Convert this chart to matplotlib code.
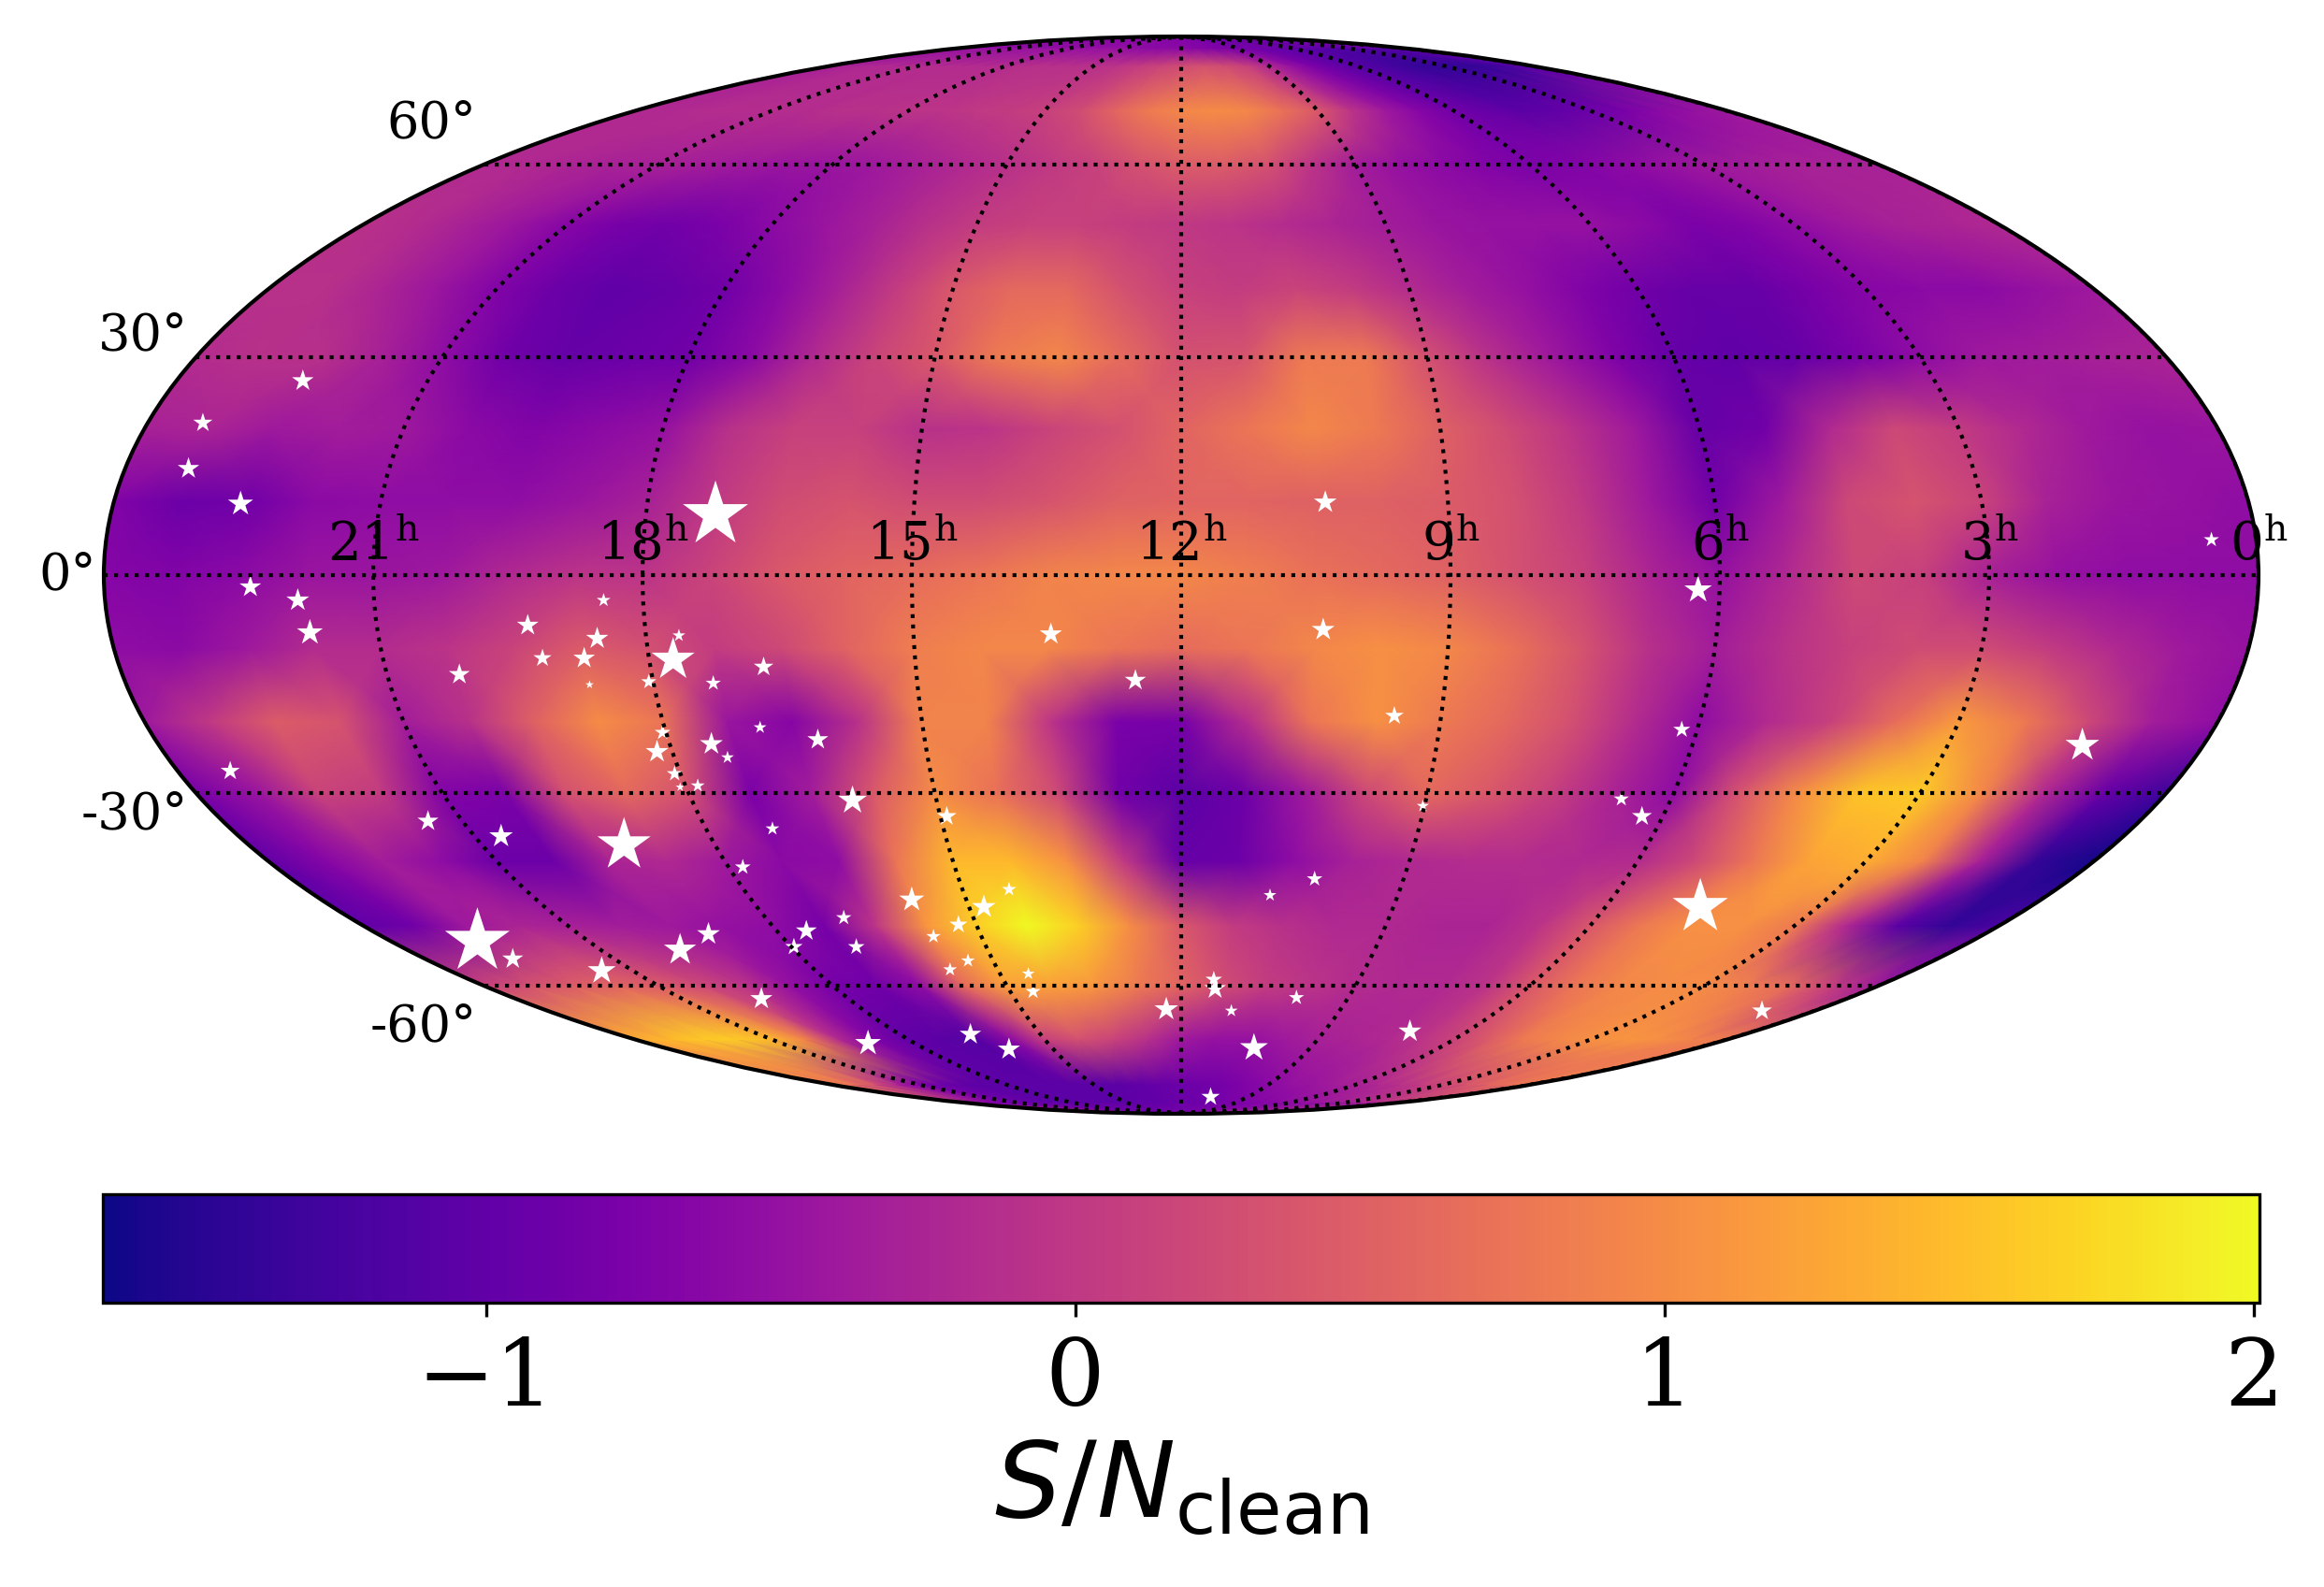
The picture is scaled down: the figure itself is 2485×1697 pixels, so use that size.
import numpy as np
import matplotlib
matplotlib.use("Agg")
import matplotlib.pyplot as plt

plt.rcParams['font.family'] = 'serif'
plt.rcParams['mathtext.fontset'] = 'dejavuserif'

# S/N map, rows are declination, columns go from RA 24h (left) to 0h (right)
dec_rows = [-90, -85, -80, -70, -60, -50, -40, -30, -20, -10, 0, 10, 20, 30, 40, 50, 60, 70, 80, 85, 90]
lon_cols = np.arange(-180, 180.1, 11.25)

sn_values = [
    [-.8] * 33,
    [-.3, -.5, -.7, -.8, -.9, -.95, -1.0, -1.05, -1.05, -1.05, -1.05, -1.05, -1.05, -1.0, -1.0, -.95, -.9, -.9, -.85, -.8, -.75, -.7, -.65, -.6, -.55, -.5, -.45, -.4, -.35, -.3, -.2, -.15, -.1],
    [.85, .7, .3, -.25, -.7, -.9, -1.0, -1.05, -1.05, -1.05, -1.05, -1.05, -1.05, -1.05, -1.0, -.95, -.9, -.85, -.8, -.7, -.6, -.5, -.45, -.35, -.3, -.2, -.1, .05, .2, .35, .55, .7, .85],
    [1.3, 1.45, 1.6, 1.6, 1.45, .9, -.2, -.7, -1.0, -1.05, -1.1, -.6, .1, .3, .15, -.1, -.4, -.5, -.5, -.4, -.3, -.25, -.2, -.05, .15, .45, .8, .95, 1.05, 1.1, 1.05, .9, .8],
    [.1, .3, .45, .55, .45, .2, -.05, -.5, -.8, -.85, -.55, .6, 1.2, 1.2, 1.1, .8, .55, .25, .05, -.05, -.15, -.2, -.2, -.05, .4, .75, .95, 1.0, 1.0, .85, .6, .05, -.4],
    [-1.0, -.85, -.4, -.25, -.3, -.35, -.4, -.5, -.55, -.8, -.05, 1.1, 1.65, 2.0, 1.65, 1.0, .4, .05, -.1, -.2, -.2, -.25, -.25, -.05, .4, .8, 1.05, 1.05, .8, -.2, -1.05, -1.4, -1.2],
    [-1.0, -.65, -.35, -.55, -.9, -.9, -.25, -.2, -.4, -.6, -.55, .75, 1.45, 1.45, 1.05, .0, -.95, -.9, -.55, -.3, -.2, -.15, -.15, -.2, -.15, .2, .75, 1.25, 1.35, .9, -.3, -1.4, -1.6],
    [-.8, -.45, .15, .05, -.7, -.75, .3, .6, .3, -.75, -.35, .4, 1.0, .7, .2, -.85, -1.05, -.9, -.4, .2, .6, .4, .1, -.25, -.55, .3, 1.0, 1.55, 1.6, .95, -.2, -.95, -1.3],
    [-.4, .0, .45, .35, -.35, -.1, .5, 1.0, .75, -.45, -.65, -.1, .9, .9, -.05, -.75, -.8, -.15, .75, 1.05, .8, .6, .3, -.15, -.55, -.2, .1, .65, 1.15, .8, .2, -.35, -.55],
    [-.55, -.6, -.4, -.15, -.15, -.05, .15, .45, .3, .05, .2, .55, .85, .95, .95, .75, .65, .75, .95, 1.05, .95, .7, .35, -.1, -.35, -.1, .1, .25, .25, .05, -.2, -.4, -.5],
    [-.65, -.7, -.6, -.45, -.45, -.4, -.2, -.05, -.05, .15, .4, .55, .65, .75, .9, .95, .95, .85, .7, .6, .5, .3, .1, -.25, -.5, -.2, .2, .1, -.3, -.5, -.55, -.55, -.55],
    [-.7, -.9, -.85, -.6, -.55, -.55, -.55, -.45, -.3, .0, .25, .35, .25, .25, .35, .5, .55, .55, .5, .5, .45, .3, .0, -.4, -.85, -.4, .2, .35, .15, -.3, -.45, -.5, -.55],
    [-.3, -.25, -.4, -.35, -.4, -.6, -.7, -.6, -.5, -.1, .1, .1, -.1, -.05, .15, .3, .55, .75, .95, .8, .5, .25, -.05, -.4, -.95, -.85, -.2, .2, .05, -.2, -.4, -.5, -.45],
    [-.15, -.1, -.1, -.3, -.55, -.85, -.95, -.9, -.85, -.6, -.2, .15, .4, .8, .95, .65, .3, .35, .8, .8, .3, -.1, -.4, -.7, -.95, -1.0, -.95, -.75, -.55, -.4, -.35, -.3, -.25],
    [-.1, -.1, -.25, -.45, -.7, -.9, -1.0, -.95, -.85, -.6, -.3, .05, .4, .6, .6, .3, .1, .05, .15, .05, -.15, -.35, -.5, -.7, -.85, -.95, -.95, -.8, -.65, -.6, -.6, -.5, -.4],
    [-.1, -.15, -.3, -.45, -.65, -.8, -.85, -.75, -.6, -.45, -.3, -.1, .05, .1, .1, .05, 0, -.05, -.15, -.25, -.35, -.45, -.5, -.5, -.5, -.6, -.75, -.7, -.55, -.4, -.3, -.25, -.2],
    [-.2, -.2, -.25, -.3, -.3, -.35, -.4, -.45, -.45, -.4, -.3, -.2, -.1, 0, .1, .3, .45, .45, .3, -.05, -.35, -.5, -.6, -.7, -.75, -.7, -.6, -.5, -.4, -.35, -.3, -.3, -.3],
    [-.2, -.2, -.15, -.15, -.15, -.15, -.1, -.1, -.05, -.05, 0, .05, .1, .25, .55, .8, .95, 1.0, .95, .7, .4, -.05, -.4, -.65, -.85, -.95, -1.05, -1.0, -.9, -.75, -.6, -.5, -.4],
    [-.3, -.25, -.2, -.2, -.15, -.15, -.15, -.15, -.15, -.1, -.1, -.1, -.1, -.05, .05, .15, .25, .3, .25, .1, -.2, -.5, -.75, -.95, -1.1, -1.2, -1.3, -1.4, -1.4, -1.4, -1.35, -1.2, -1.0],
    [-.5, -.5, -.5, -.5, -.5, -.5, -.5, -.5, -.5, -.5, -.5, -.5, -.5, -.55, -.6, -.6, -.6, -.65, -.7, -.75, -.8, -.85, -.9, -.95, -1.0, -1.05, -1.1, -1.1, -1.1, -1.1, -1.1, -1.05, -1.0],
    [-.7] * 33,
]

star_ra = [22.49, 23.36, 23.28, 22.57, 22.37, 21.85, 21.76, 23.37, 21.43, 20.66, 20.18, 19.31, 19.20, 18.73, 18.55, 18.44,
           18.73, 17.73, 17.63, 18.05, 17.32, 16.72, 16.89, 16.25, 17.51, 17.37, 18.04, 18.18, 18.07, 18.07, 17.85, 16.03,
           17.16, 17.81, 14.92, 19.17, 22.69, 22.61, 21.51, 19.77, 19.06, 19.57, 17.56, 17.96, 16.87, 17.00, 15.76, 15.72,
           15.26, 14.79, 14.36, 15.78, 15.40, 14.53, 14.60, 19.05, 16.49, 16.04, 12.28, 11.45, 11.41, 11.05, 9.93, 10.31,
           10.68, 7.21, 10.77, 10.20, 17.22, 13.46, 12.52, 10.38, 10.41, 9.54, 9.02, 6.24, 6.18, 6.61, 6.26, 4.66, 1.00,
           1.42, 0.50]
star_dec = [26.7, 20.8, 14.5, 9.7, -1.6, -3.4, -7.8, -26.9, -34.1, -36.3, -13.5, -6.8, -11.3, -11.3, -8.6, -3.4,
            -14.9, -11.5, -8.2, -14.5, -14.7, -12.5, -20.8, -22.5, -23.1, -25.0, -21.5, -24.2, -27.3, -29.2, -29.0, -31.1,
            -35.2, -40.9, -33.4, -37.6, -52.5, -55.4, -57.4, -53.9, -51.3, -62.3, -50.8, -53.4, -48.7, -53.4, -45.9, -51.7,
            -49.8, -47.0, -44.3, -57.2, -55.7, -57.9, -61.0, -70.8, -69.0, -72.0, -64.2, -58.9, -60.5, -64.5, -62.1, -71.7,
            -83.4, -68.4, -45.2, -42.7, 8.2, -8.0, -14.3, 9.9, -7.4, -19.2, -31.9, -2.0, -21.1, -30.9, -33.4, -47.0, -64.5,
            -23.3, 4.8]
star_size = [34, 27, 34, 46, 34, 38, 49, 27, 32, 41, 32, 34, 24, 34, 36, 14,
             5, 135, 12, 17, 17, 28, 12, 32, 38, 12, 18, 38, 18, 6, 14, 60,
             14, 18, 28, 206, 305, 32, 57, 76, 38, 36, 32, 22, 17, 20, 46, 15,
             24, 41, 15, 14, 14, 12, 17, 49, 34, 36, 41, 20, 34, 12, 17, 57,
             25, 38, 12, 18, 310, 36, 33, 38, 38, 25, 11, 55, 21, 17, 29, 222, 29,
             83, 17]

ra_ticks = [21, 18, 15, 12, 9, 6, 3, 0]
cbar_ticks = [-1, 0, 1, 2]

fig = plt.figure(figsize=(2485 / 300, 1697 / 300), dpi=300)
ax = fig.add_axes([110 / 2485, 1 - 1191 / 1697, 2306 / 2485, 1152 / 1697], projection='mollweide')
ax.set_facecolor(plt.cm.plasma((-0.7 + 1.65) / 3.66))

# repeat the edge columns past +-180 so the map reaches the outline
lon_mesh = np.concatenate(([-200], lon_cols, [200]))
z = np.array(sn_values)
z = np.hstack((z[:, :1], z, z[:, -1:]))
lon_grid, dec_grid = np.meshgrid(np.radians(lon_mesh), np.radians(dec_rows))
mesh = ax.pcolormesh(lon_grid, dec_grid, z, shading='gouraud', cmap='plasma', vmin=-1.65, vmax=2.01)

star_lon = (12 - np.array(star_ra)) * 15
ax.scatter(np.radians(star_lon), np.radians(star_dec), s=star_size, marker='*', c='white', linewidths=0)

ax.set_longitude_grid_ends(90)
ax.set_latitude_grid(30)
ax.set_xticks(np.radians([(12 - r) * 15 if r > 0 else 180 for r in ra_ticks]))
ax.set_xticklabels([r'$%d^{\mathrm{h}}$' % r for r in ra_ticks], fontsize=13.5)
ax.tick_params(axis='y', labelsize=13)
ax.grid(True, color='black', linestyle=':', linewidth=1.0)
ax.spines['geo'].set_linewidth(1.0)

cax = fig.add_axes([110 / 2485, 1 - 1393 / 1697, 2306 / 2485, 116 / 1697])
cbar = fig.colorbar(mesh, cax=cax, orientation='horizontal', ticks=cbar_ticks)
cbar.ax.tick_params(labelsize=24, pad=5)
cbar.set_label(r'$S/N_{\rm clean}$', fontsize=27, math_fontfamily='dejavusans', labelpad=3)

fig.savefig('out.png', dpi=300)
